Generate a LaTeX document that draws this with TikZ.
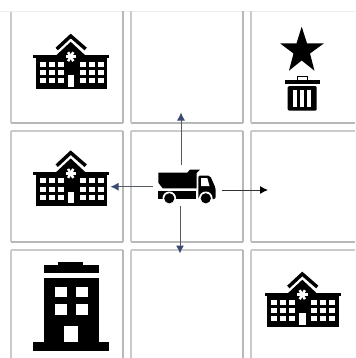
\documentclass[tikz,border=0pt]{standalone}
\usetikzlibrary{arrows.meta}
\definecolor{gridgray}{HTML}{B8B8B8}
\definecolor{gridlight}{HTML}{EEEEEE}
\definecolor{shaftgray}{HTML}{555B66}
\definecolor{headblue}{HTML}{3A4A72}
\tikzset{
  x=0.75pt,y=-0.75pt,
  gridstrong/.style={draw=gridgray,line width=1.3pt},
  gridfaint/.style={draw=gridlight,line width=0.9pt},
  gridside/.style={draw=gridgray!75,line width=1.1pt},
  moveblue/.style={draw=shaftgray,line width=0.75pt,-{Latex[length=6pt,width=6pt,color=headblue]},shorten >=0pt},
  moveblack/.style={draw=black!80,line width=0.75pt,-{Latex[length=6pt,width=6pt,color=black]}},
  school/.pic={
    \fill[black] (-37.4,20.7) rectangle (38.6,23.7);
    \fill[black] (-35,20.7) rectangle (36.6,55);
    \draw[black,line width=2.6pt,miter limit=10] (-14,14.7) -- (0,1.7) -- (15,14.7);
    \fill[black] (-14.5,21) -- (0,7.5) -- (14.5,21) -- cycle;
    \foreach \xx in {-31,-22,-13,9,18,27}{
      \foreach \yy in {27.3,35.6,44}{
        \fill[white] (\xx,\yy) rectangle ++(6,5);
      }
    }
    \fill[white] (-3,40.7) rectangle (3.4,52.4);
    \foreach \aa in {0,60,120}{
      \draw[white,line width=1.9pt] (0,22.4) ++(\aa:5.2) -- ++(\aa+180:10.4);
    }
  },
}
\begin{document}
\begin{tikzpicture}
\useasboundingbox (0,0) rectangle (355,358);
\fill[white] (0,0) rectangle (355,358);
% grid
\draw[gridfaint] (0,11.5) -- (355,11.5);
\draw[gridside] (11,12) -- (11,123);
\draw[gridside] (11,131) -- (11,242);
\draw[gridside] (11,250) -- (11,358);
\foreach \xa/\xb in {11/122.5,131/242.7,251/355}{
  \draw[gridstrong] (\xa,122.7) -- (\xb,122.7);
  \draw[gridstrong] (\xa,241.8) -- (\xb,241.8);
  \draw[gridside] (\xa,131) -- (\xb,131);
  \draw[gridside] (\xa,250) -- (\xb,250);
}
\foreach \xc in {122.7,242.7}{
  \draw[gridstrong] (\xc,11) -- (\xc,123);
  \draw[gridstrong] (\xc,131) -- (\xc,242);
  \draw[gridstrong] (\xc,250) -- (\xc,358);
}
\foreach \xc in {131,251}{
  \draw[gridside] (\xc,11) -- (\xc,123);
  \draw[gridside] (\xc,131) -- (\xc,242);
  \draw[gridside] (\xc,250) -- (\xc,358);
}
% schools
\pic at (70.7,34.3) {school};
\pic at (70.7,151) {school};
\pic at (302.3,272.3) {school};
% star and bin
\fill[black] (301.7,26.7) -- (307,43.3) -- (324,43.3) -- (310,53.5) -- (314.5,70.7) -- (301.7,60.5) -- (289,70.7) -- (293.5,53.5) -- (280,43.3) -- (296.5,43.3) -- cycle;
\fill[black] (285,80) rectangle (320,83.5);
\draw[black,line width=1.1pt] (297.5,80) -- (297.5,76.7) -- (307.5,76.7) -- (307.5,80);
\fill[black,rounded corners=1pt] (287.7,86) rectangle (316.7,110.7);
\foreach \sx in {293.3,300,306.7}{\fill[white] (\sx,89.5) rectangle ++(4,17.5);}
% tower
\fill[black] (58,261.7) rectangle (83,266);
\fill[black] (44,265) rectangle (99,273.3);
\fill[black] (44,277.7) rectangle (99,342);
\fill[black] (33,341.7) rectangle (109,351);
\foreach \wx in {55,76}{\foreach \wy in {286.7,304.3}{\fill[white] (\wx,\wy) rectangle ++(12,10.5);}}
\fill[white] (64,325.7) rectangle (78.3,341.7);
% truck
\fill[black] (158.3,172.7) -- (187.3,172.7) -- (190,169.5) -- (200,169.5) -- (196.7,173) -- (196.7,188.3) -- (162.7,188.3) -- (158.3,182.7) -- cycle;
\fill[black] (158.3,190.5) -- (196,190.5) -- (196,199) -- (158.3,199) -- cycle;
\fill[black,rounded corners=1.5pt] (198.3,175.5) -- (210,175.5) -- (215.7,188.3) -- (215.7,199) -- (198.3,199) -- cycle;
\fill[white] (201,178) -- (207.3,178) -- (209.5,186) -- (201,186) -- cycle;
\foreach \wh in {169.3,205.8}{
  \fill[white] (\wh,198.3) circle[radius=6.8];
  \fill[black] (\wh,198.3) circle[radius=5.1];
}
% named connector ends
\node[inner sep=0pt,minimum size=0pt] (truckup) at (181,165) {};
\node[inner sep=0pt,minimum size=0pt] (truckdown) at (180,206) {};
\node[inner sep=0pt,minimum size=0pt] (truckleft) at (153.3,186.7) {};
\node[inner sep=0pt,minimum size=0pt] (truckright) at (221.7,190) {};
\coordinate (goup) at (181,112.5);
\coordinate (godown) at (180,253.5);
\coordinate (goleft) at (110.5,186.7);
\coordinate (goright) at (268,190);
\draw[moveblue] (truckup) -- (goup);
\draw[moveblue] (truckdown) -- (godown);
\draw[moveblue] (truckleft) -- (goleft);
\draw[moveblack] (truckright) -- (goright);
\end{tikzpicture}
\end{document}
